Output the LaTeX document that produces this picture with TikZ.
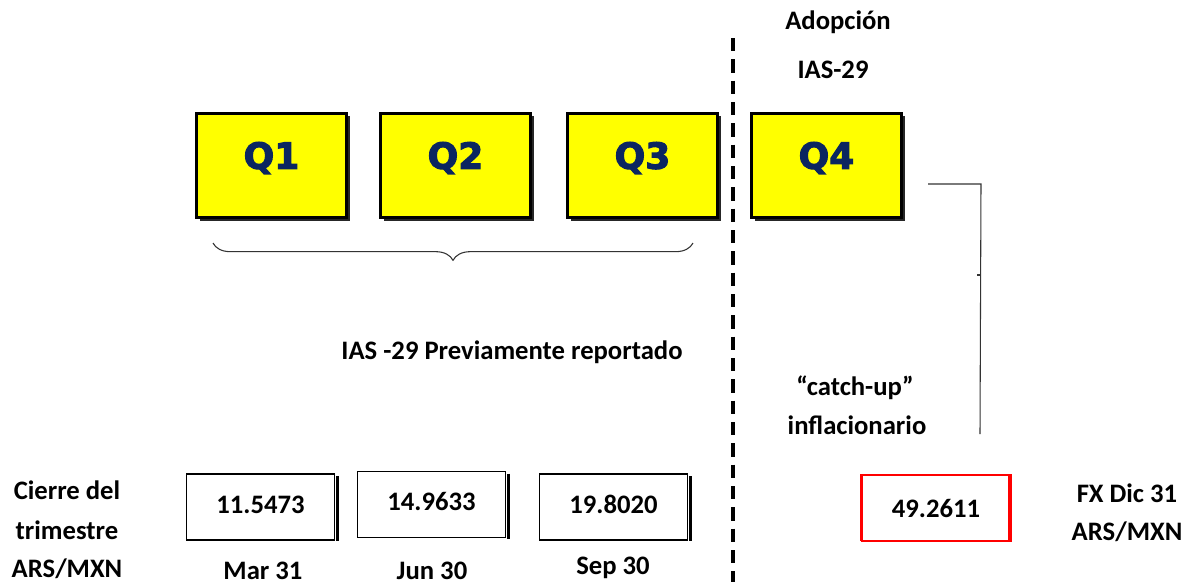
\documentclass[tikz,border=0pt]{standalone}
\usepackage{fontspec}
\setmainfont{Carlito}
\newfontfamily\qfont[FakeBold=3]{DejaVu Sans Bold}
\usetikzlibrary{decorations.pathreplacing}
\definecolor{qyellow}{HTML}{FFFF00}
\definecolor{qnavy}{HTML}{0B2660}
\tikzset{
  qbox/.style={draw=black, line width=2.2pt, fill=qyellow, minimum width=150*0.75pt, minimum height=104*0.75pt, inner sep=0pt},
  qshadow/.style={fill=black!85},
  qlabel/.style={font=\qfont\fontsize{27}{30}\selectfont, text=qnavy, inner sep=0pt},
  valbox/.style={draw=black, line width=0.8pt, fill=white, minimum width=148*0.75pt, minimum height=66*0.75pt, inner sep=0pt, font=\bfseries\fontsize{20}{24}\selectfont},
  lbl/.style={font=\bfseries\fontsize{20}{24}\selectfont, align=center, inner sep=0pt},
  thin/.style={line width=0.8pt, black!80},
}
\begin{document}
\begin{tikzpicture}[x=0.75pt, y=-0.75pt]
\useasboundingbox (0,0) rectangle (1190,586);
% dashed separator
\draw[line width=2.6pt, dash pattern=on 10pt off 6pt] (733,38) coordinate (dtop) -- (733,582) coordinate (dbot);
% Q boxes with shadows
\foreach \n/\cx in {Q1/271.5, Q2/455.5, Q3/642.5, Q4/826.5}{
  \fill[qshadow] (\cx-75+3,113+3) rectangle (\cx+75+3,218+3);
  \node[qbox] (\n) at (\cx,165.5) {};
  \node[qlabel] at (\cx,158) {\n};
}
% brace
\draw[thin, decorate, decoration={brace, mirror, amplitude=13pt}] (213,243) coordinate (bl) -- (693,243) coordinate (br);
\node[lbl] (prev) at (512,352) {IAS -29 Previamente reportado};
% top label
\node[lbl] (adop) at (838,22) {Adopción};
\node[lbl] (ias) at (833,70) {IAS-29};
% catch-up connector
\coordinate (c1) at (928,184);
\coordinate (c2) at (981,184);
\coordinate (c3) at (980,434);
\draw[thin] (c1) -- (c2) -- (c3);
\draw[thin] (977,275) -- (981,275);
\node[lbl] (catch) at (855,388) {“catch-up”};
\node[lbl] (infl) at (857,425) {inflacionario};
% value boxes
\foreach \n/\cx/\cy/\val in {v1/260.5/507/11.5473, v2/431.5/504.5/14.9633, v3/613.5/507/19.8020}{
  \draw[line width=1.6pt] (\cx+74+3,\cy-33+2) -- (\cx+74+3,\cy+33+1);
  \node[valbox] (\n) at (\cx,\cy) {\raisebox{4pt}{\val}};
}
\node[valbox, draw=red, line width=1.2pt] (v4) at (936,508) {49.2611};
\draw[red, line width=3pt] (1010,474) -- (1010,542);
\draw[red, line width=2pt] (861,474) -- (861,541);
% side labels
\node[lbl] (cierre) at (67,490) {Cierre del};
\node[lbl] (trim) at (67,530) {trimestre};
\node[lbl] (arsl) at (67,569) {ARS/MXN};
\node[lbl] (mar) at (263,571) {Mar 31};
\node[lbl] (jun) at (432,571) {Jun 30};
\node[lbl] (sep) at (613,568) {Sep 30};
\node[lbl] (fx) at (1127,493) {FX Dic 31};
\node[lbl] (arsr) at (1127,532) {ARS/MXN};
\end{tikzpicture}
\end{document}
